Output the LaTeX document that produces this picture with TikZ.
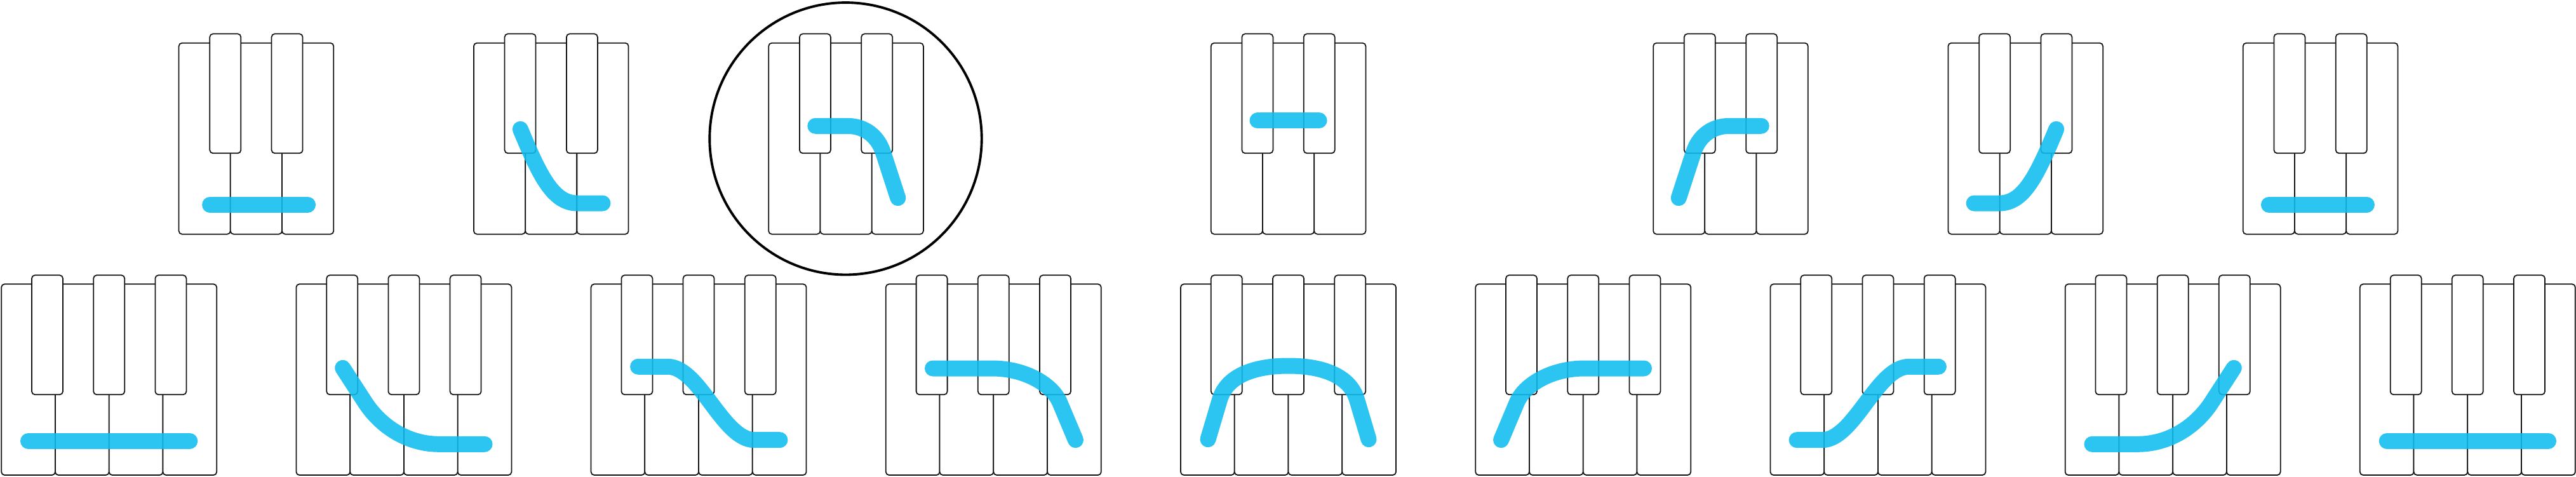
\documentclass[tikz,border=0pt]{standalone}
\usepackage{xcolor}
\usepackage{tikz}
\definecolor{swipeblue}{RGB}{15,189,240}
\definecolor{keyline}{RGB}{20,20,20}

\tikzset{
    key/.style={draw=keyline, fill=white, line width=0.5pt, rounded corners=0.5mm},
    swipe/.style={draw=swipeblue, line width=2.5mm, line cap=round, line join=round, opacity=0.88},
    flipsmall/.style={xshift=2.437cm, xscale=-1},
    flipwide/.style={xshift=3.39cm, xscale=-1}
}

% 3 white + 2 black keys, swipe on top (#1 = options for the swipe)
\newcommand{\smallkeys}[3][]{%
    \begin{scope}[shift={(#2,3.813)}]
        \foreach \wk in {0,1,2}
            \draw[key] (\wk*0.8123,0) rectangle ++(0.8123,3.01);
        \foreach \bk in {0.732,1.705}
            \draw[key] (\bk-0.245,1.274) rectangle ++(0.49,1.88);
        \begin{scope}[#1]
            \draw[swipe] #3;
        \end{scope}
    \end{scope}}

% 4 white + 3 black keys, same idea
\newcommand{\widekeys}[3][]{%
    \begin{scope}[shift={(#2,0.02)}]
        \foreach \wk in {0,...,3}
            \draw[key] (\wk*0.8475,0) rectangle ++(0.8475,3.007);
        \foreach \bk in {0.723,1.695,2.667}
            \draw[key] (\bk-0.245,1.267) rectangle ++(0.49,1.88);
        \begin{scope}[#1]
            \draw[swipe] #3;
        \end{scope}
    \end{scope}}

\begin{document}
\begin{tikzpicture}
    \useasboundingbox (0,0) rectangle (40.56,7.5);

    % Top row
    \smallkeys{2.816}{(0.49,0.464) -- (2.03,0.464)}
    \smallkeys{7.459}{(0.734,1.654) .. controls (1.04,0.917) and (1.25,0.487) .. (1.63,0.487) -- (2.03,0.487)}
    \smallkeys{12.102}{(0.736,1.704) -- (1.236,1.704) .. controls (1.53,1.704) and (1.725,1.527) .. (1.803,1.287) -- (2.036,0.57)}
    \smallkeys{19.067}{(0.733,1.787) -- (1.703,1.787)}
    \smallkeys[flipsmall]{26.031}{(0.736,1.704) -- (1.236,1.704) .. controls (1.53,1.704) and (1.725,1.527) .. (1.803,1.287) -- (2.036,0.57)}
    \smallkeys[flipsmall]{30.674}{(0.734,1.654) .. controls (1.04,0.917) and (1.25,0.487) .. (1.63,0.487) -- (2.03,0.487)}
    \smallkeys[flipsmall]{35.317}{(0.49,0.464) -- (2.03,0.464)}

    % Selected gesture
    \draw[line width=1.1pt] (13.315,5.317) circle (2.142);

    % Bottom row
    \widekeys{0.022}{(0.423,0.537) -- (2.966,0.537)}
    \widekeys{4.664}{(0.733,1.687) -- (1.083,1.147) .. controls (1.328,0.769) and (1.75,0.487) .. (2.25,0.487) -- (2.966,0.487)}
    \widekeys{9.306}{(0.74,1.707) -- (1.207,1.707) .. controls (1.707,1.707) and (2.073,0.553) .. (2.573,0.553) -- (2.973,0.553)}
    \widekeys{13.948}{(0.737,1.68) -- (1.67,1.68) .. controls (2.2,1.68) and (2.62,1.42) .. (2.737,1.147) -- (2.987,0.553)}
    \widekeys{18.59}{(0.43,0.563) -- (0.613,1.18) .. controls (0.72,1.56) and (1.15,1.72) .. (1.695,1.72) .. controls (2.24,1.72) and (2.67,1.56) .. (2.777,1.18) -- (2.96,0.563)}
    \widekeys[flipwide]{23.232}{(0.737,1.68) -- (1.67,1.68) .. controls (2.2,1.68) and (2.62,1.42) .. (2.737,1.147) -- (2.987,0.553)}
    \widekeys[flipwide]{27.874}{(0.74,1.707) -- (1.207,1.707) .. controls (1.707,1.707) and (2.073,0.553) .. (2.573,0.553) -- (2.973,0.553)}
    \widekeys[flipwide]{32.516}{(0.733,1.687) -- (1.083,1.147) .. controls (1.328,0.769) and (1.75,0.487) .. (2.25,0.487) -- (2.966,0.487)}
    \widekeys[flipwide]{37.158}{(0.423,0.537) -- (2.966,0.537)}
\end{tikzpicture}
\end{document}
